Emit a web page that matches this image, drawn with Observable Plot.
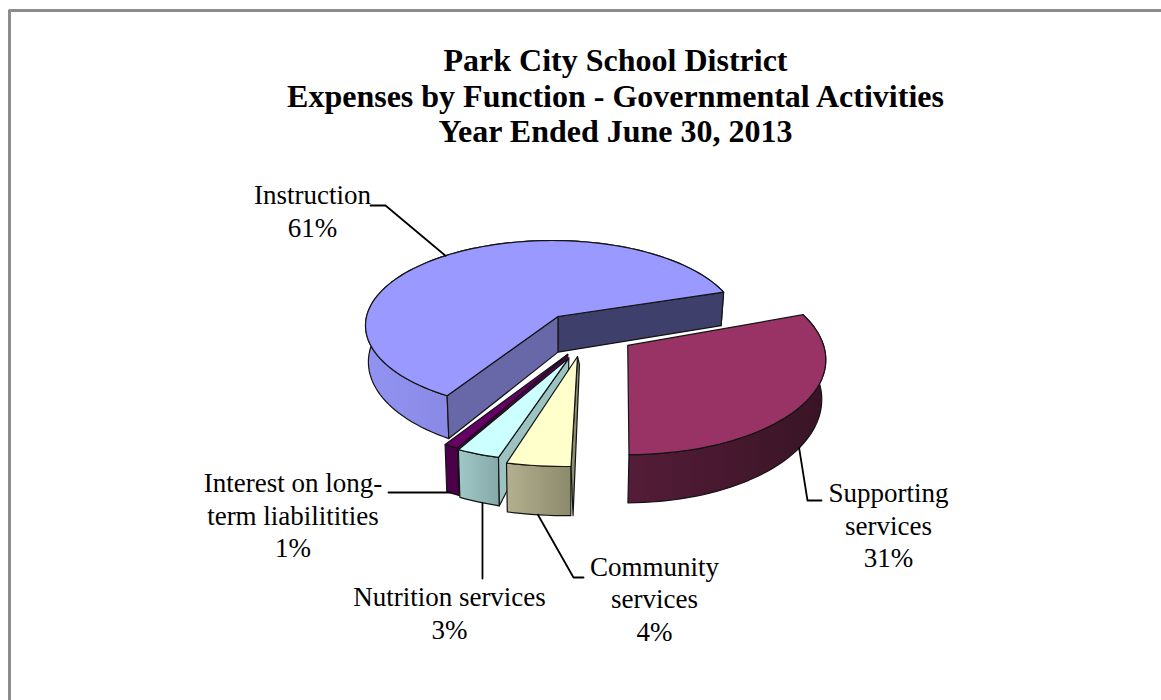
<!DOCTYPE html>
<html>
<head>
<meta charset="utf-8">
<script src="https://cdn.jsdelivr.net/npm/d3@7"></script>
<script src="https://cdn.jsdelivr.net/npm/@observablehq/plot@0.6"></script>
<style>
  html, body { margin: 0; padding: 0; background: #fff; }
  svg { display: block; }
</style>
</head>
<body>
<div id="chart"></div>
<script>
// Expense shares by function, clockwise from the lower-left cut of the largest slice.
const categories = ["Instruction", "Supporting services", "Community services", "Nutrition services", "Interest on long-term liabilitities"];
const shares = [61, 31, 4, 3, 1];
const labelLines = ["Instruction\n61%", "Supporting\nservices\n31%", "Community\nservices\n4%", "Nutrition services\n3%", "Interest on long-\nterm liabilitities\n1%"];
const titleLines = ["Park City School District", "Expenses by Function - Governmental Activities", "Year Ended June 30, 2013"];

// Face colours per slice.
const topFill = ["#9999ff", "#993366", "#ffffcc", "#ccffff", "#660066"];
const rimFill = ["url(#rim0)", "url(#rim1)", "url(#rim2)", "url(#rim3)", "#4c004c"];
const cutFill = ["#6868a8", "#4a1830", "#8f8d70", "#9cc2c2", "#4c004c"];

// Exploded layout: offset of each slice in pie units, its radii and a small turn in degrees.
const pull = [[0, 0], [0.367, 0.336], [0.10, 0.455], [0.055, 0.471], [0.05, 0.43]];
const radiusX = [1, 1.08, 1.18, 1.06, 1.06];
const radiusY = [1, 1.08, 1.05, 0.99, 1.02];
const turn = [0, -1.5, -1.5, 0, 0];
const startAngle = 212.4;

// Perspective: a projective map of the pie disk that moves its centre up the ellipse.
const lens = [0.032, -0.106];
const gamma = 1 / Math.sqrt(1 - lens[0] ** 2 - lens[1] ** 2);
function project([a, b]) {
  const dot = lens[0] * a + lens[1] * b;
  const k = gamma / (1 + gamma) * dot + 1;
  return [(a / gamma + k * lens[0]) / (1 + dot), (b / gamma + k * lens[1]) / (1 + dot)];
}
// Ellipse that frames the pie on the page, used as the x and y scales.
const xRange = [365, 738], yRange = [240, 410];
const unitX = (px) => ((px - xRange[0]) / (xRange[1] - xRange[0])) * 2 - 1;
const unitY = (px) => ((px - yRange[0]) / (yRange[1] - yRange[0])) * 2 - 1;
const pixelY = (q) => yRange[0] + ((q + 1) / 2) * (yRange[1] - yRange[0]);

// Drop a top-face point to the bottom of the pie; nearer points drop further.
function drop([p, q], scale = 1) {
  const depth = (33.5 + (pixelY(q) - 292) * 0.09) * scale;
  return [p + (lens[0] - p) * 0.015, q + depth / 85];
}

let running = startAngle;
const slices = shares.map((share, i) => {
  const from = running;
  running += (share / 100) * 360;
  return {i, from, to: running};
});

function pointOn(i, deg) {
  const t = ((deg + turn[i]) * Math.PI) / 180;
  return project([pull[i][0] + radiusX[i] * Math.sin(t), pull[i][1] - radiusY[i] * Math.cos(t)]);
}
function arc(i, from, to) {
  const n = Math.max(2, Math.ceil(Math.abs(to - from) / 2));
  return d3.range(n + 1).map((k) => pointOn(i, from + ((to - from) * k) / n));
}
const apex = (i) => project(pull[i]);

function face(points, fill) {
  return Plot.line([...points, points[0]], {
    x: (d) => d[0], y: (d) => d[1], fill, stroke: "#141414", strokeWidth: 1.2, strokeLinejoin: "round"
  });
}

function sliceMarks({i, from, to}, cuts) {
  const top = arc(i, from, to);
  const rim = [...top, ...top.map((d) => drop(d)).reverse()];
  return [
    face(rim, rimFill[i]),
    ...cuts,
    face([apex(i), ...top], topFill[i])
  ];
}
// Side wall along one radius; apexDrop shortens it near the centre of the pie.
function wall(i, deg, fill, apexDrop = 1, shift = 0) {
  const a = apex(i), c = pointOn(i, deg);
  const bottomC = drop(c), bottomA = drop(a, apexDrop);
  return face([a, c, [bottomC[0] + shift, bottomC[1]], [bottomA[0] + shift, bottomA[1]]], fill);
}

const [instruction, supporting, community, nutrition, interest] = slices;

// Leader lines run from a point on each slice's rim to its label.
const nutritionFoot = drop(pointOn(3, 202.5));
const leaderMarks = [
  [pointOn(0, 320), [385, 205], [370, 205]],
  [drop(pointOn(1, 128)), [807, 500], [821, 500]],
  [drop(pointOn(2, 191)), [573, 577], [583, 577]],
  [nutritionFoot, [nutritionFoot[0], unitY(578)]],
  [[450, 492], [388, 492]]
].map((path) =>
  Plot.line(path.map((d) => (d[0] > 2 ? [unitX(d[0]), unitY(d[1])] : d)), {
    x: (d) => d[0], y: (d) => d[1], stroke: "#000", strokeWidth: 1.8
  })
);

const labelAt = [[312, 209.5], [888, 524], [654, 597.5], [449, 611.5], [292.5, 514]];
const titleY = [60, 96, 131];

const gradient = (id, from, to) =>
  `<linearGradient id="${id}" x1="0" x2="1" y1="0" y2="0"><stop offset="0" stop-color="${from}"/><stop offset="1" stop-color="${to}"/></linearGradient>`;

const chart = Plot.plot({
  width: 1161,
  height: 700,
  margin: 0,
  style: {background: "#fff", overflow: "hidden"},
  x: {domain: [-1, 1], range: xRange, axis: null},
  y: {domain: [-1, 1], range: yRange, axis: null},
  marks: [
    () => {
      const defs = document.createElementNS("http://www.w3.org/2000/svg", "defs");
      defs.innerHTML =
        gradient("rim0", "#9292f2", "#6e6eb8") +
        gradient("rim1", "#541c38", "#391425") +
        gradient("rim2", "#b2b08e", "#8c8a6c") +
        gradient("rim3", "#a0c8c8", "#86a8a8");
      return defs;
    },
    // Chart border: top and left edges only, running off the page.
    Plot.line([[9, 720], [9, 10], [1180, 10]], {
      x: (d) => unitX(d[0]), y: (d) => unitY(d[1]), stroke: "#8c8c8c", strokeWidth: 3
    }),
    ...sliceMarks(instruction, [wall(0, instruction.to, "#3f3f6c"), wall(0, instruction.from, cutFill[0])]),
    ...sliceMarks(supporting, []),
    ...sliceMarks(interest, [wall(4, interest.from, cutFill[4], 0.4)]),
    ...sliceMarks(nutrition, [wall(3, nutrition.from, cutFill[3], 0.3)]),
    ...sliceMarks(community, [wall(2, community.from, cutFill[2], 0.2, 0.012)]),
    ...leaderMarks,
    Plot.text(titleLines, {
      x: unitX(615), y: (d, i) => unitY(titleY[i]), text: (d) => d,
      fontFamily: "Liberation Serif", fontSize: 32, fontWeight: "bold", fill: "#000"
    }),
    Plot.text(labelLines, {
      x: (d, i) => unitX(labelAt[i][0]), y: (d, i) => unitY(labelAt[i][1]), text: (d) => d,
      fontFamily: "Liberation Serif", fontSize: 27, lineHeight: 1.2, fill: "#000"
    })
  ]
});
document.getElementById("chart").append(chart);
</script>
</body>
</html>
